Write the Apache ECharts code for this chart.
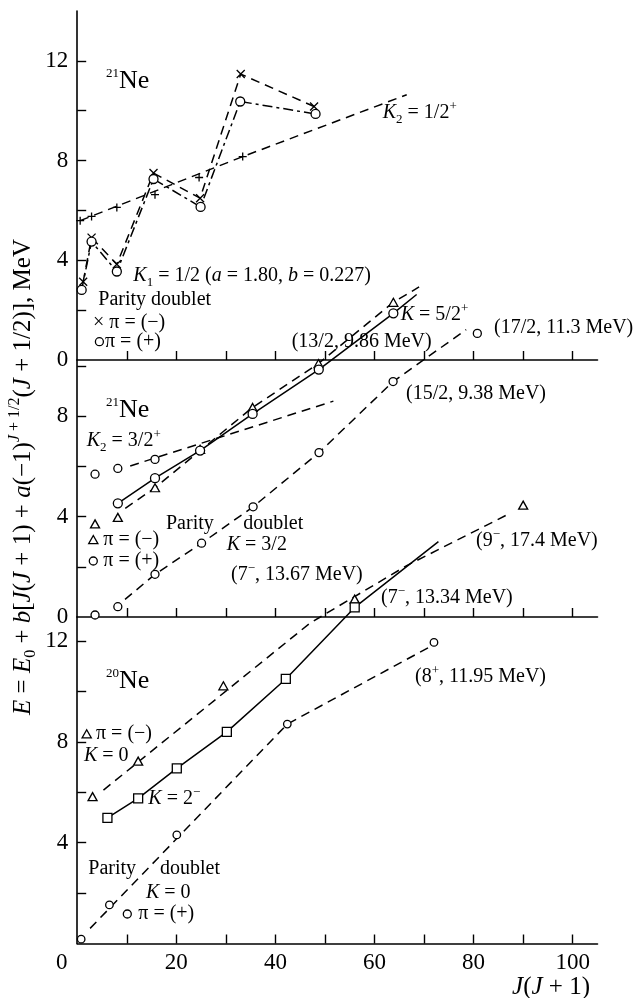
<!DOCTYPE html>
<html>
<head>
<meta charset="utf-8">
<script src="https://cdn.jsdelivr.net/npm/echarts@6/dist/echarts.min.js"></script>
<style>
  html, body { margin: 0; padding: 0; background: #fff; }
  #chart { width: 635px; height: 998px; }
</style>
</head>
<body>
<div id="chart"></div>
<script>
// ---- x axis: J(J+1) ----
const xTickValues = [10, 20, 30, 40, 50, 60, 70, 80, 90, 100];
const xLabelValues = [0, 20, 40, 60, 80, 100];

// ---- y axis ticks / labels per panel ----
const yTickValues = [2, 4, 6, 8, 10, 12];
const yLabelsTop = [0, 4, 8, 12];
const yLabelsMid = [0, 4, 8];
const yLabelsBot = [4, 8, 12];

// ---- 21Ne, K1 = 1/2 parity doublet (top panel) ----
const topMinusX = [1.2, 2.9, 8.0, 15.4, 24.8, 33.0, 47.8];
const topMinusE = [3.14, 4.91, 3.84, 7.50, 6.49, 11.47, 10.17];
const topPlusX  = [0.9, 2.9, 8.0, 15.4, 24.9, 32.9, 48.1];
const topPlusE  = [2.81, 4.75, 3.55, 7.26, 6.14, 10.37, 9.87];
// K2 = 1/2+ band
const topK2X = [0.6, 2.9, 8.0, 15.7, 24.6, 33.4];
const topK2E = [5.59, 5.76, 6.12, 6.63, 7.32, 8.16];
const topK2FitX = [0.6, 33.4, 66.5];
const topK2FitE = [5.59, 8.16, 10.64];

// ---- 21Ne, middle panel ----
// K2 = 3/2+ band
const midK2X = [3.6, 8.2, 15.7];
const midK2E = [5.69, 5.92, 6.28];
const midK2FitX = [10.7, 51.7];
const midK2FitE = [6.02, 8.6];
// parity doublet K = 3/2 (pi = -), triangles
const midMinusX = [3.6, 8.2, 15.7, 24.8, 35.4, 48.7, 63.8];
const midMinusE = [3.71, 3.97, 5.15, 6.68, 8.35, 10.1, 12.54];
const midMinusFitX = [9.7, 15.7, 24.8, 35.4, 48.7, 63.8, 69.0];
const midMinusFitE = [4.33, 5.15, 6.63, 8.35, 10.1, 12.54, 13.15];
// parity doublet (pi = +), circles on the solid line
const midPlusX = [8.2, 15.7, 24.8, 35.4, 48.75, 63.8];
const midPlusE = [4.53, 5.53, 6.63, 8.09, 9.86, 12.10];
const midPlusFitX = [8.2, 15.7, 24.8, 35.4, 48.75, 63.8, 68.5];
const midPlusFitE = [4.53, 5.53, 6.63, 8.09, 9.86, 12.10, 12.85];
// K = 3/2 band
const midK32X = [3.6, 8.2, 15.7, 25.1, 35.5, 48.8, 63.75, 80.75];
const midK32E = [0.08, 0.41, 1.70, 2.94, 4.39, 6.55, 9.38, 11.3];
const midK32FitX = [9.65, 15.7, 25.1, 35.5, 48.8, 63.75, 78.5];
const midK32FitE = [0.70, 1.70, 2.94, 4.39, 6.55, 9.38, 11.45];

// ---- 20Ne, bottom panel ----
const botMinusX = [3.1, 12.3, 29.5, 56, 90];
const botMinusE = [5.83, 7.24, 10.23, 13.67, 17.4];
const botMinusFitX = [5.3, 47.0, 66.5, 87.3];
const botMinusFitE = [6.09, 12.72, 15.0, 17.07];
const botK2X = [6.1, 12.3, 20.1, 30.2, 42.1, 56];
const botK2E = [4.99, 5.76, 6.95, 8.40, 10.50, 13.34];
const botK2FitX = [6.1, 12.3, 20.1, 30.2, 42.1, 56, 72.9];
const botK2FitE = [4.99, 5.76, 6.95, 8.40, 10.50, 13.34, 15.95];
const botPlusX = [0.8, 6.5, 20.1, 42.4, 72];
const botPlusE = [0.17, 1.53, 4.31, 8.71, 11.95];
const botPlusFitX = [2.6, 42.4, 71.2];
const botPlusFitE = [0.6, 8.71, 11.78];

const F = 'Liberation Serif';
const BLACK = '#000';
const zip = (xs, ys) => xs.map((x, i) => [x, ys[i]]);

const DASH = [9, 6];
const DASHDOT = [10, 4, 3, 4];

const CROSS = 'path://M0,0L10,10M10,0L0,10';
const PLUS = 'path://M5,0L5,10M0,5L10,5';

function fit(xs, ys, panel, type, width) {
  return {
    type: 'line', xAxisIndex: panel, yAxisIndex: panel,
    data: zip(xs, ys), symbol: 'none', clip: false, silent: true,
    lineStyle: { color: BLACK, width: width || 1.5, type: type }, z: 2
  };
}
function pts(xs, ys, panel, symbol, size, hollow) {
  return {
    type: 'scatter', xAxisIndex: panel, yAxisIndex: panel,
    data: zip(xs, ys), symbol: symbol, symbolSize: size, clip: false, silent: true,
    itemStyle: { color: hollow === false ? 'transparent' : '#fff', borderColor: BLACK, borderWidth: 1.3, opacity: 1 },
    z: 5
  };
}

const RICH = {
  r:    { fontFamily: F, fontSize: 20, lineHeight: 26, fill: BLACK, color: BLACK },
  i:    { fontFamily: F, fontSize: 20, fontStyle: 'italic', lineHeight: 26, fill: BLACK, color: BLACK },
  big:  { fontFamily: F, fontSize: 26, lineHeight: 28, fill: BLACK, color: BLACK },
  sup:  { fontFamily: F, fontSize: 13, verticalAlign: 'top', fill: BLACK, color: BLACK },
  supi: { fontFamily: F, fontSize: 13, fontStyle: 'italic', verticalAlign: 'top', fill: BLACK, color: BLACK },
  sub:  { fontFamily: F, fontSize: 13, verticalAlign: 'bottom', fill: BLACK, color: BLACK }
};
// larger set for the axis titles
const RICH_T = {
  r:    { fontFamily: F, fontSize: 25, lineHeight: 32, fill: BLACK },
  i:    { fontFamily: F, fontSize: 25, fontStyle: 'italic', lineHeight: 32, fill: BLACK },
  sup:  { fontFamily: F, fontSize: 16, verticalAlign: 'top', fill: BLACK },
  supi: { fontFamily: F, fontSize: 16, fontStyle: 'italic', verticalAlign: 'top', fill: BLACK },
  sub:  { fontFamily: F, fontSize: 16, verticalAlign: 'bottom', fill: BLACK }
};

function txt(x, y, s, align, rich) {
  return {
    type: 'text', x: x, y: y, z: 50, silent: true,
    style: { text: s, rich: rich || RICH, fontFamily: F, fontSize: 20, lineHeight: 26, fill: BLACK,
             align: align || 'left', verticalAlign: 'middle' }
  };
}
function ring(cx, cy) {
  return { type: 'circle', z: 50, silent: true, shape: { cx: cx, cy: cy, r: 4 },
           style: { fill: '#fff', stroke: BLACK, lineWidth: 1.3 } };
}
function tri(cx, cy) {
  return { type: 'polygon', z: 50, silent: true,
           shape: { points: [[cx, cy - 4.5], [cx + 4.6, cy + 3.6], [cx - 4.6, cy + 3.6]] },
           style: { fill: '#fff', stroke: BLACK, lineWidth: 1.3 } };
}

const axisFont = { fontFamily: F, fontSize: 23, color: BLACK };

function xAxis(i) {
  return {
    type: 'value', gridIndex: i, min: 0, max: 105,
    axisLine: { show: true, onZero: false, lineStyle: { color: BLACK, width: 1.6 } },
    axisTick: { show: true, inside: true, length: 9, customValues: xTickValues,
                lineStyle: { color: BLACK, width: 1.4 } },
    axisLabel: Object.assign({
      show: i === 2, customValues: xLabelValues, margin: 8,
      formatter: v => (v === 0 ? '{z|0}' : String(v)),
      rich: { z: { fontFamily: F, fontSize: 23, color: BLACK, padding: [0, 31, 0, 0] } }
    }, axisFont),
    splitLine: { show: false }
  };
}
function yAxis(i, max, labels) {
  return {
    type: 'value', gridIndex: i, min: 0, max: max,
    axisLine: { show: true, onZero: false, lineStyle: { color: BLACK, width: 1.6 } },
    axisTick: { show: true, inside: true, length: 9, customValues: yTickValues.filter(v => v < max),
                lineStyle: { color: BLACK, width: 1.4 } },
    axisLabel: Object.assign({ customValues: labels, margin: 9 }, axisFont),
    splitLine: { show: false }
  };
}

const yTitle = txt(23, 477,
  '{i|E}{r| = }{i|E}{sub|0}{r| + }{i|b}{r|[}{i|J}{r|(}{i|J}{r| + 1) + }{i|a}{r|(−1)}{supi|J}{sup| + 1/2}{r|(}{i|J}{r| + 1/2)], MeV}',
  'center', RICH_T);
yTitle.rotation = Math.PI / 2;

const option = {
  animation: false,
  backgroundColor: '#fff',
  grid: [
    { left: 77.2, width: 520.3, top: 11, height: 349 },
    { left: 77.2, width: 520.3, top: 360, height: 257 },
    { left: 77.2, width: 520.3, top: 617, height: 326.5 }
  ],
  xAxis: [xAxis(0), xAxis(1), xAxis(2)],
  yAxis: [yAxis(0, 14, yLabelsTop), yAxis(1, 10.24, yLabelsMid), yAxis(2, 12.96, yLabelsBot)],
  series: [
    // top panel
    fit(topMinusX, topMinusE, 0, DASH),
    fit(topPlusX, topPlusE, 0, DASHDOT),
    fit(topK2FitX, topK2FitE, 0, DASH),
    pts(topK2X, topK2E, 0, PLUS, 8, false),
    pts(topMinusX, topMinusE, 0, CROSS, 8, false),
    pts(topPlusX, topPlusE, 0, 'circle', 9),
    // middle panel
    fit(midK2FitX, midK2FitE, 1, DASH),
    fit(midMinusFitX, midMinusFitE, 1, DASH),
    fit(midPlusFitX, midPlusFitE, 1, 'solid', 1.5),
    fit(midK32FitX, midK32FitE, 1, DASH),
    pts(midK2X, midK2E, 1, 'circle', 8),
    pts(midMinusX, midMinusE, 1, 'triangle', [9, 8]),
    pts(midPlusX, midPlusE, 1, 'circle', 9),
    pts(midK32X, midK32E, 1, 'circle', 8),
    // bottom panel
    fit(botMinusFitX, botMinusFitE, 2, DASH),
    fit(botK2FitX, botK2FitE, 2, 'solid', 1.5),
    fit(botPlusFitX, botPlusFitE, 2, DASH),
    pts(botMinusX, botMinusE, 2, 'triangle', [9, 8]),
    pts(botK2X, botK2E, 2, 'rect', 9),
    pts(botPlusX, botPlusE, 2, 'circle', 7.5)
  ],
  graphic: [
    // axis titles
    yTitle,
    txt(590, 987, '{i|J}{r|(}{i|J}{r| + 1)}', 'right', RICH_T),

    // top panel
    txt(106, 81, '{sup|21}{big|Ne}'),
    txt(382.7, 113, '{i|K}{sub|2}{r| = 1/2}{sup|+}'),
    txt(133.3, 276, '{i|K}{sub|1}{r| = 1/2 (}{i|a}{r| = 1.80, }{i|b}{r| = 0.227)}'),
    txt(98.3, 300, '{r|Parity doublet}'),
    txt(93, 323, '{r|× π = (−)}'),
    ring(99.4, 341.7),
    txt(105, 341.7, '{r|π = (+)}'),
    txt(291.7, 342, '{r|(13/2, 9.86 MeV)}'),
    txt(400.7, 315, '{i|K}{r| = 5/2}{sup|+}'),
    txt(494, 328, '{r|(17/2, 11.3 MeV)}'),

    // middle panel
    txt(106, 410, '{sup|21}{big|Ne}'),
    txt(86.7, 441, '{i|K}{sub|2}{r| = 3/2}{sup|+}'),
    txt(166, 524, '{r|Parity}'),
    txt(243.3, 524, '{r|doublet}'),
    txt(226.7, 545, '{i|K}{r| = 3/2}'),
    tri(93.3, 540),
    txt(103.3, 540, '{r|π = (−)}'),
    ring(93.3, 561),
    txt(103.3, 561, '{r|π = (+)}'),
    txt(231, 575, '{r|(7}{sup|−}{r|, 13.67 MeV)}'),
    txt(406, 394, '{r|(15/2, 9.38 MeV)}'),
    txt(476, 541, '{r|(9}{sup|−}{r|, 17.4 MeV)}'),
    txt(381, 598, '{r|(7}{sup|−}{r|, 13.34 MeV)}'),

    // bottom panel
    txt(106, 681, '{sup|20}{big|Ne}'),
    tri(86.7, 734.3),
    txt(96, 734, '{r|π = (−)}'),
    txt(84, 756, '{i|K}{r| = 0}'),
    txt(148.3, 799, '{i|K}{r| = 2}{sup|−}'),
    txt(88.3, 869, '{r|Parity}'),
    txt(160, 869, '{r|doublet}'),
    txt(146, 893, '{i|K}{r| = 0}'),
    ring(127.3, 914),
    txt(138.3, 914, '{r|π = (+)}'),
    txt(415, 677, '{r|(8}{sup|+}{r|, 11.95 MeV)}')
  ]
};

const chart = echarts.init(document.getElementById('chart'), null, { renderer: 'canvas' });
chart.setOption(option);
</script>
</body>
</html>
